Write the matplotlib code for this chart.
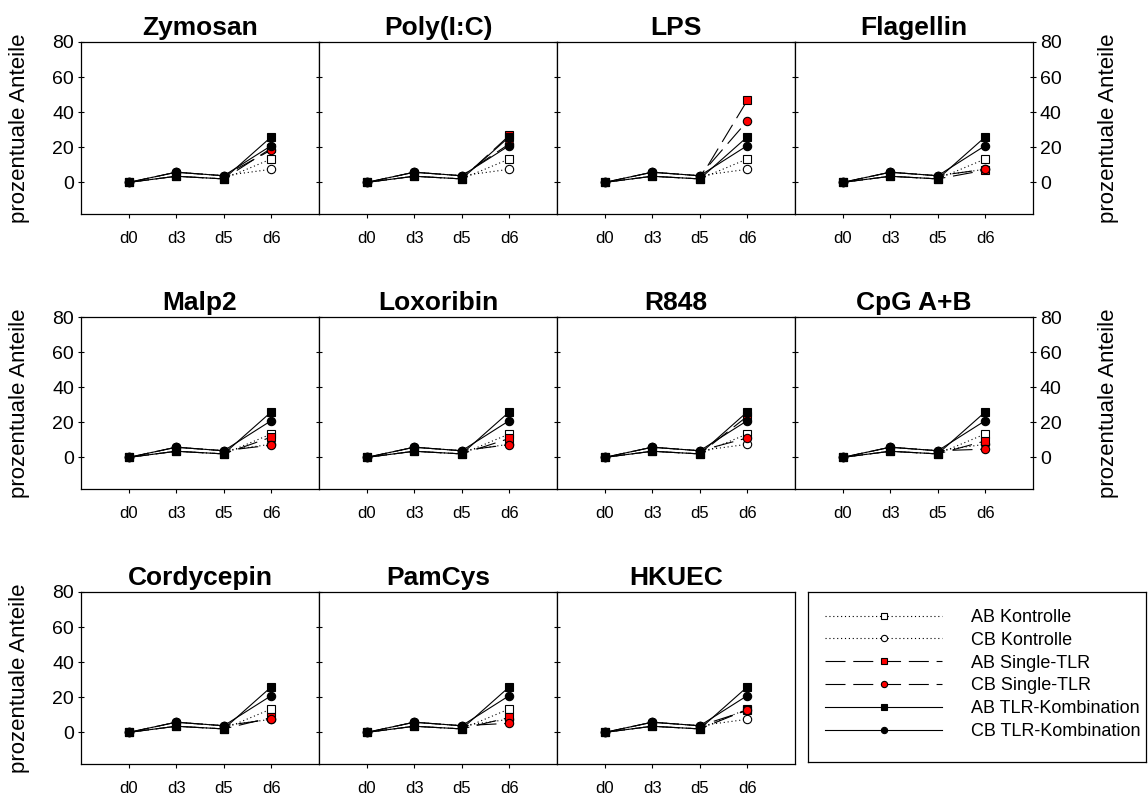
import matplotlib
matplotlib.use("Agg")
import matplotlib.pyplot as plt

plt.rcParams['font.family'] = ['Liberation Sans', 'DejaVu Sans']

days = ['d0', 'd3', 'd5', 'd6']
stimuli = ['Zymosan', 'Poly(I:C)', 'LPS', 'Flagellin',
           'Malp2', 'Loxoribin', 'R848', 'CpG A+B',
           'Cordycepin', 'PamCys', 'HKUEC']

ab_kontrolle = [0, 3.5, 2.0, 13.4]
cb_kontrolle = [0, 5.8, 3.8, 7.5]
ab_kombination = [0, 3.5, 2.0, 26.0]
cb_kombination = [0, 5.8, 3.8, 21.0]

# Single-TLR values per stimulus (d0, d3, d5, d6)
ab_single = {
    'Zymosan':    [0, 3.5, 2.0, 19.5],
    'Poly(I:C)':  [0, 3.5, 2.0, 26.8],
    'LPS':        [0, 3.5, 2.0, 46.8],
    'Flagellin':  [0, 3.5, 2.0, 7.0],
    'Malp2':      [0, 3.5, 2.0, 11.6],
    'Loxoribin':  [0, 3.5, 2.0, 10.8],
    'R848':       [0, 3.5, 2.0, 23.5],
    'CpG A+B':    [0, 3.5, 2.0, 9.4],
    'Cordycepin': [0, 3.5, 2.0, 8.5],
    'PamCys':     [0, 3.5, 2.0, 8.5],
    'HKUEC':      [0, 3.5, 2.0, 13.0],
}
cb_single = {
    'Zymosan':    [0, 5.8, 3.8, 18.5],
    'Poly(I:C)':  [0, 5.8, 3.8, 22.0],
    'LPS':        [0, 5.8, 3.8, 35.0],
    'Flagellin':  [0, 5.8, 3.8, 7.5],
    'Malp2':      [0, 5.8, 3.8, 7.0],
    'Loxoribin':  [0, 5.8, 3.8, 7.3],
    'R848':       [0, 5.8, 3.8, 11.1],
    'CpG A+B':    [0, 5.8, 3.8, 4.7],
    'Cordycepin': [0, 5.8, 3.8, 7.5],
    'PamCys':     [0, 5.8, 3.8, 5.2],
    'HKUEC':      [0, 5.8, 3.8, 12.5],
}

labels = ['AB Kontrolle', 'CB Kontrolle', 'AB Single-TLR', 'CB Single-TLR',
          'AB TLR-Kombination', 'CB TLR-Kombination']

W, H = 1148, 795
fig = plt.figure(figsize=(W / 100, H / 100), dpi=100)

col_left = [81, 319, 557, 795]
col_w = 238
row_top = [42, 317, 592]
row_h = 172

dash_single = (0, (18, 7))
ms = 6


def style_series():
    return [
        dict(ls=(0, (1, 2.5)), marker='s', mfc='white', mec='black', color='black', lw=0.8),
        dict(ls=(0, (1, 2.5)), marker='o', mfc='white', mec='black', color='black', lw=0.8),
        dict(ls=dash_single, marker='s', mfc='red', mec='black', color='black', lw=0.8),
        dict(ls=dash_single, marker='o', mfc='red', mec='black', color='black', lw=0.8),
        dict(ls='-', marker='s', mfc='black', mec='black', color='black', lw=0.8),
        dict(ls='-', marker='o', mfc='black', mec='black', color='black', lw=0.8),
    ]


x = list(range(len(days)))
handles = None
for i, name in enumerate(stimuli):
    r, c = divmod(i, 4)
    left = col_left[c] / W
    bottom = 1 - (row_top[r] + row_h) / H
    ax = fig.add_axes([left, bottom, col_w / W, row_h / H])
    series = [ab_kontrolle, cb_kontrolle, ab_single[name], cb_single[name],
              ab_kombination, cb_kombination]
    hs = []
    for k, (vals, st) in enumerate(zip(series, style_series())):
        h, = ax.plot(x, vals, markersize=ms, markeredgewidth=0.8, zorder=2 + k, **st)
        hs.append(h)
    handles = hs
    ax.set_xlim(-1, 4)
    ax.set_ylim(-18, 80)
    ax.set_xticks(x)
    ax.set_xticklabels(days, fontsize=12)
    ax.set_yticks([0, 20, 40, 60, 80])
    ax.tick_params(axis='x', direction='out', length=3, width=0.8, pad=9)
    ax.tick_params(axis='y', direction='inout', length=4, width=0.8, labelsize=14,
                   left=True, right=False, pad=3)
    if c == 0:
        ax.tick_params(axis='y', labelleft=True)
        ax.set_ylabel('prozentuale Anteile', fontsize=16)
        ax.yaxis.set_label_coords((30 - col_left[0]) / col_w, 0.5)
    else:
        ax.tick_params(axis='y', labelleft=False)
    if c == 3:
        ax.tick_params(axis='y', right=True, labelright=True)
        ax.yaxis.set_label_position('right')
        ax.set_ylabel('prozentuale Anteile', fontsize=16, rotation=90)
        ax.yaxis.set_label_coords((1098 - col_left[3]) / col_w, 0.5)
    for s in ax.spines.values():
        s.set_linewidth(0.9)
    ax.set_title(name, fontsize=19, fontweight='bold', pad=5)

# Legend box
lax = fig.add_axes([808 / W, 1 - 762 / H, (1146 - 808) / W, (762 - 592) / H])
lax.set_xticks([])
lax.set_yticks([])
for s in lax.spines.values():
    s.set_linewidth(0.9)
lax.legend(handles, labels, loc='upper left', bbox_to_anchor=(0.05, 0.9),
           frameon=False, fontsize=13,
           handlelength=6.5, handletextpad=1.6, labelspacing=0.32, numpoints=1,
           borderaxespad=0.0, borderpad=0.0, markerscale=0.75)

fig.savefig('out.png', dpi=100)
